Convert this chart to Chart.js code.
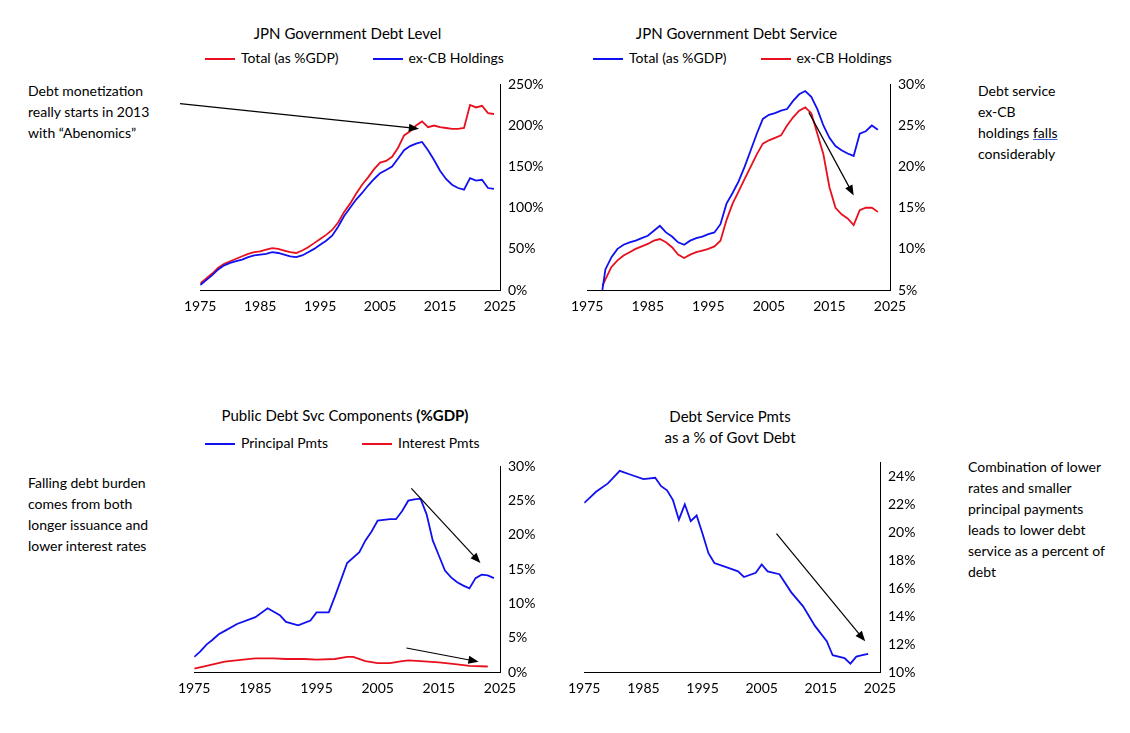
<!DOCTYPE html>
<html><head><meta charset="utf-8">
<script src="https://cdn.jsdelivr.net/npm/chart.js@4.4.0/dist/chart.umd.min.js"></script>
<style>
body{margin:0;background:#fff;font-family:Lato,"Open Sans",sans-serif;color:#000;}
#wrap{position:relative;width:1130px;height:733px;}
.c{position:absolute;}
.t{position:absolute;font-size:15px;text-align:center;white-space:nowrap;}
.lg{position:absolute;font-size:14px;white-space:nowrap;}
.lg span.l{display:inline-block;width:30px;height:2px;vertical-align:middle;margin:0 6px 0 0;}
.lg span.i{margin-right:34px;}
.n{position:absolute;font-size:14px;line-height:21px;}
</style></head><body><div id="wrap">
<div class="t" style="left:195px;top:24px;width:305px">JPN Government Debt Level</div>
<div class="lg" style="left:205px;top:49px"><span class="l" style="background:#e8101e"></span><span class="i">Total (as %GDP)</span><span class="l" style="background:#1010f0"></span>ex-CB Holdings</div>
<div class="t" style="left:583px;top:24px;width:307px">JPN Government Debt Service</div>
<div class="lg" style="left:593px;top:49px"><span class="l" style="background:#1010f0"></span><span class="i">Total (as %GDP)</span><span class="l" style="background:#e8101e"></span>ex-CB Holdings</div>
<div class="t" style="left:190px;top:406px;width:310px">Public Debt Svc Components <b>(%GDP)</b></div>
<div class="lg" style="left:205px;top:434px"><span class="l" style="background:#1010f0"></span><span class="i">Principal Pmts</span><span class="l" style="background:#e8101e"></span>Interest Pmts</div>
<div class="t" style="left:580px;top:406px;width:300px;line-height:21px">Debt Service Pmts<br>as a % of Govt Debt</div>
<div class="n" style="left:28px;top:80px">Debt monetization<br>really starts in 2013<br>with “Abenomics”</div>
<div class="n" style="left:978px;top:80px">Debt service<br>ex-CB<br>holdings <u style="text-decoration-color:#4060d0">falls</u><br>considerably</div>
<div class="n" style="left:28px;top:472px">Falling debt burden<br>comes from both<br>longer issuance and<br>lower interest rates</div>
<div class="n" style="left:968px;top:456px">Combination of lower<br>rates and smaller<br>principal payments<br>leads to lower debt<br>service as a percent of<br>debt</div>
<canvas id="c1" class="c"></canvas><canvas id="c2" class="c"></canvas>
<canvas id="c3" class="c"></canvas><canvas id="c4" class="c"></canvas>
</div>
<script>
const RED = '#e8101e', BLUE = '#1010f0';

// panel 1: debt level (% GDP)
const years1 = [1975,1976,1977,1978,1979,1980,1981,1982,1983,1984,1985,1986,1987,1988,1989,1990,1991,1992,1993,1994,1995,1996,1997,1998,1999,2000,2001,2002,2003,2004,2005,2006,2007,2008,2009,2010,2011,2012,2013,2014,2015,2016,2017,2018,2019,2020,2021,2022,2023,2024];
const debtTotal = [8,14,20,27,32,35,38,41,44,46,47,49,51,50,48,46,45,48,52,57,62,67,73,82,95,105,117,128,137,147,155,157,162,173,188,193,200,205,198,200,198,197,196,196,197,225,222,224,215,214];
const debtExCB = [6,12,18,25,30,33,35,37,40,42,43,44,46,45,43,41,40,42,46,50,55,60,66,77,90,100,110,118,127,135,142,146,150,160,170,175,178,180,170,158,145,135,128,124,122,136,133,134,124,123];

// panel 2: debt service (% GDP)
const years2 = [1977.5,1978,1979,1980,1981,1982,1983,1984,1985,1986,1987,1988,1989,1990,1991,1992,1993,1994,1995,1996,1997,1998,1999,2000,2001,2002,2003,2004,2005,2006,2007,2008,2009,2010,2011,2012,2013,2014,2015,2016,2017,2018,2019,2020,2021,2022,2023];
const svcTotal = [5,7.5,9,10,10.5,10.8,11,11.3,11.6,12.2,12.8,12,11.5,10.8,10.5,11,11.3,11.5,11.8,12,13,15.5,16.8,18.2,20,22,24,25.8,26.3,26.5,26.8,27,28,28.8,29.2,28.5,27,25,23.5,22.5,22,21.6,21.3,24,24.3,25,24.5];
const svcExCB = [5.5,6.3,7.8,8.6,9.2,9.6,10,10.3,10.6,11,11.2,10.8,10.2,9.3,8.9,9.3,9.6,9.8,10,10.3,11,13.5,15.5,17,18.5,20,21.5,22.8,23.2,23.5,23.8,25,26,26.8,27.2,26.5,24,21.5,17.5,15,14.2,13.7,12.9,14.7,15,15,14.5];

// panel 3: components (% GDP)
const years3 = [1975,1976,1977,1978,1979,1980,1982,1985,1987,1989,1990,1992,1994,1995,1997,1998,2000,2002,2003,2004,2005,2007,2008,2009,2010,2011,2012,2013,2014,2015,2016,2017,2018,2019,2020,2021,2022,2023,2024];
const principal = [2.2,3,4,4.7,5.5,6,7,8,9.3,8.3,7.3,6.8,7.5,8.7,8.7,11,15.9,17.5,19.2,20.5,22.1,22.3,22.3,23.5,25,25.2,25.3,23,19.2,17,14.8,13.8,13.1,12.6,12.2,13.7,14.2,14.1,13.7];
const years3i = [1975,1977,1980,1983,1985,1988,1990,1993,1995,1998,2000,2001,2003,2005,2007,2009,2010,2012,2015,2018,2020,2023];
const interest = [0.5,0.9,1.5,1.8,2,2,1.9,1.9,1.8,1.9,2.2,2.2,1.6,1.3,1.3,1.6,1.7,1.6,1.4,1.1,0.9,0.8];

// panel 4: debt service pmts as % of govt debt
const years4 = [1975,1976,1977,1979,1981,1983,1985,1987,1988,1989,1990,1991,1992,1993,1994,1995,1996,1997,1999,2001,2002,2004,2005,2006,2008,2010,2012,2014,2016,2017,2019,2020,2021,2022,2023];
const svcPct = [22.1,22.5,22.9,23.5,24.4,24.1,23.8,23.9,23.3,23,22.3,20.9,22,20.8,21.2,19.9,18.5,17.8,17.5,17.2,16.8,17.1,17.7,17.2,17,15.7,14.7,13.3,12.2,11.2,11,10.6,11.1,11.2,11.3];

const xTicks = [1975,1985,1995,2005,2015,2025];
const yTicks4 = [10,12,14,16,18,20,22,24];

const pts = (xs, ys) => xs.map((x, i) => ({ x, y: ys[i] }));

const arrowPlugin = {
  id: 'arrows',
  afterDraw(chart, args, opts) {
    const { ctx, scales: { x, y } } = chart;
    (opts.list || []).forEach(([x0, y0, x1, y1]) => {
      const ax = x.getPixelForValue(x0), ay = y.getPixelForValue(y0);
      const bx = x.getPixelForValue(x1), by = y.getPixelForValue(y1);
      const ang = Math.atan2(by - ay, bx - ax);
      ctx.save();
      ctx.strokeStyle = '#000'; ctx.fillStyle = '#000'; ctx.lineWidth = 1.2;
      ctx.beginPath(); ctx.moveTo(ax, ay); ctx.lineTo(bx - 8 * Math.cos(ang), by - 8 * Math.sin(ang)); ctx.stroke();
      ctx.beginPath(); ctx.moveTo(bx, by);
      ctx.lineTo(bx - 11 * Math.cos(ang - 0.38), by - 11 * Math.sin(ang - 0.38));
      ctx.lineTo(bx - 11 * Math.cos(ang + 0.38), by - 11 * Math.sin(ang + 0.38));
      ctx.closePath(); ctx.fill();
      ctx.restore();
    });
  }
};

const tickFont = { family: 'Lato', size: 14 };

function make(id, pos, datasets, yOpt, arrows) {
  const cv = document.getElementById(id);
  cv.style.left = pos[0] + 'px'; cv.style.top = pos[1] + 'px';
  cv.style.width = pos[2] + 'px'; cv.style.height = pos[3] + 'px';
  cv.width = pos[2]; cv.height = pos[3];
  new Chart(cv, {
    type: 'line',
    data: { datasets: datasets.map(d => ({ data: d.data, borderColor: d.color, borderWidth: 1.8, pointRadius: 0, tension: 0, fill: false })) },
    plugins: [arrowPlugin],
    options: {
      responsive: false, animation: false,
      layout: { padding: { left: 0, top: 0, right: 0, bottom: 0 } },
      plugins: { legend: { display: false }, tooltip: { enabled: false }, arrows: { list: arrows } },
      scales: {
        x: {
          type: 'linear', min: 1975, max: 2025,
          afterBuildTicks: a => { a.ticks = xTicks.map(v => ({ value: v })); },
          afterFit: a => { a.height = 30; },
          grid: { display: false, drawTicks: true, tickLength: 4 },
          border: { color: '#000' },
          ticks: { color: '#000', font: tickFont, maxRotation: 0, padding: 4, callback: v => v }
        },
        y: Object.assign({
          position: 'right',
          afterFit: a => { a.width = 50; },
          grid: { display: false, tickLength: 4 },
          border: { color: '#000' },
          ticks: { color: '#000', font: tickFont, padding: 4, callback: v => v + '%' }
        }, yOpt)
      }
    }
  });
}

make('c1', [180, 72, 370, 248], [
  { data: pts(years1, debtExCB), color: BLUE },
  { data: pts(years1, debtTotal), color: RED }
], { min: 0, max: 250, ticks: { stepSize: 50, color: '#000', font: tickFont, padding: 4, callback: v => v + '%' } },
  [[1970, 228, 2011.5, 196]]);

make('c2', [567, 72, 373, 248], [
  { data: pts(years2, svcTotal), color: BLUE },
  { data: pts(years2, svcExCB), color: RED }
], { min: 5, max: 30, ticks: { stepSize: 5, color: '#000', font: tickFont, padding: 4, callback: v => v + '%' } },
  [[2011.6, 26.6, 2019, 16.5]]);

make('c3', [174, 454, 376, 248], [
  { data: pts(years3, principal), color: BLUE },
  { data: pts(years3i, interest), color: RED }
], { min: 0, max: 30, ticks: { stepSize: 5, color: '#000', font: tickFont, padding: 4, callback: v => v + '%' } },
  [[2010.5, 26.8, 2021.8, 15.9], [2009.7, 3.5, 2021.5, 1.5]]);

make('c4', [564, 450, 366, 252], [
  { data: pts(years4, svcPct), color: BLUE }
], { min: 10, max: 25,
     afterBuildTicks: a => { a.ticks = yTicks4.map(v => ({ value: v })); },
     ticks: { color: '#000', font: tickFont, padding: 4, callback: v => v + '%' } },
  [[2007.5, 19.9, 2022.5, 12.2]]);
</script></body></html>
